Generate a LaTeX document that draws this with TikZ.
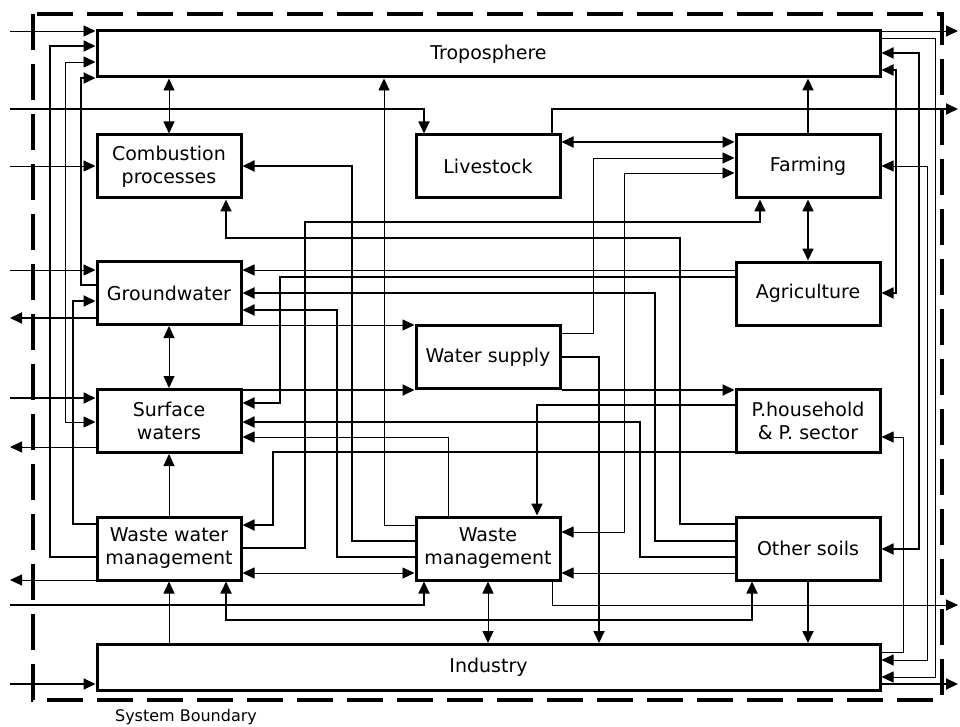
\documentclass[tikz,border=0pt]{standalone}
\usepackage{fontspec}
\setmainfont{DejaVu Sans}
\usetikzlibrary{arrows.meta}

\begin{document}
\begin{tikzpicture}[
    x=1pt, y=-1pt,
    >={Triangle[length=12pt,width=11pt]},
    box/.style={rectangle, draw, line width=3pt, minimum width=144pt, minimum height=63pt, align=center, inner sep=2pt, font=\fontsize{19}{23}\selectfont},
    widebox/.style={box, minimum width=783pt, minimum height=46pt},
    thinline/.style={line width=0.9pt},
    thickline/.style={line width=1.8pt},
    boundary/.style={line width=3.8pt, dash pattern=on 36pt off 14pt}
]
\useasboundingbox (0,0) rectangle (960,727);

% System boundary
\draw[boundary] (33,14) rectangle (942,700);
\node[font=\fontsize{16}{19}\selectfont] (sblabel) at (186,717) {System Boundary};

% Boxes
\node[widebox] (tropo) at (488.5,54) {Troposphere};
\node[box] (comb) at (169,166.5) {Combustion\\processes};
\node[box] (live) at (488,166.5) {Livestock};
\node[box] (farm) at (808,166.5) {Farming};
\node[box] (gw) at (169,293) {Groundwater};
\node[box] (agri) at (808,293.5) {Agriculture};
\node[box] (ws) at (488,357) {Water supply};
\node[box] (sw) at (169,421) {Surface\\waters};
\node[box] (ph) at (808,421) {P.household\\\& P. sector};
\node[box] (wwm) at (169,548.5) {Waste water\\management};
\node[box] (wm) at (488,548.5) {Waste\\management};
\node[box] (os) at (808,548.5) {Other soils};
\node[widebox] (ind) at (488.5,667.5) {Industry};

% Free ends outside the boundary
\foreach \nm/\yy in {intropo/31,inlive/109,incomb/166,ingw/270,outgw/318,insw/398,outsw/447,outwwm/580,inwm/605,inind/684}
    \coordinate (\nm) at (10,\yy);
\foreach \nm/\yy in {outtropo/31,outlive/109,outwm/605,outind/684}
    \coordinate (\nm) at (958,\yy);

% Left side flows
\draw[thinline,->] (intropo) -- (tropo.west |- intropo);
\draw[thickline,->] (inlive) -| (live.north -| 424,0);
\draw[thinline,->] (incomb) -- (comb.west |- incomb);
\draw[thinline,->] (ingw) -- (gw.west |- ingw);
\draw[thickline,->] (gw.west |- outgw) -- (outgw);
\draw[thickline,->] (insw) -- (sw.west |- insw);
\draw[thinline,->] (sw.west |- outsw) -- (outsw);
\draw[thinline,->] (wwm.west |- outwwm) -- (outwwm);
\draw[thickline,->] (inwm) -| (wm.south -| 424,0);
\draw[thickline,->] (inind) -- (ind.west |- inind);

% Right side flows
\draw[thinline,->] (tropo.east |- outtropo) -- (outtropo);
\draw[thickline,->] (live.north -| 552,0) |- (outlive);
\draw[thinline,->] (wm.south -| 552,0) |- (outwm);
\draw[thickline,->] (ind.east |- outind) -- (outind);

% Straight links
\draw[thinline,<->] (tropo.south -| comb.north) -- (comb.north);
\draw[thickline,->] (farm.north) -- (tropo.south -| farm.north);
\draw[thickline,<->] (farm.south) -- (agri.north);
\draw[thinline,<->] (gw.south) -- (sw.north);
\draw[thinline,->] (wwm.north) -- (sw.south);
\draw[thinline,->] (ind.north -| wwm.south) -- (wwm.south);
\draw[thinline,<->] (wm.south) -- (ind.north -| wm.south);
\draw[thickline,->] (os.south) -- (ind.north -| os.south);
\draw[thickline,<->] (live.east |- 0,142) -- (farm.west |- 0,142);
\draw[thinline,->] (agri.west |- 0,270) -- (gw.east |- 0,270);
\draw[thinline,->] (gw.east |- 0,325) -- (ws.west |- 0,325);
\draw[thickline,->] (sw.east |- 0,390) -- (ws.west |- 0,390);
\draw[thickline,->] (ws.east |- 0,390) -- (ph.west |- 0,390);
\draw[thinline,<->] (wwm.east |- 0,573) -- (wm.west |- 0,573);
\draw[thinline,->] (os.west |- 0,573) -- (wm.east |- 0,573);

% Routed links, left channel
\draw[thickline,->] (wwm.west |- 0,557) -| (50,46) -- (tropo.west |- 0,46);
\draw[thinline,<->] (tropo.west |- 0,62) -| (65,422) -- (sw.west |- 0,422);
\draw[thickline,->] (gw.west |- 0,285) -| (81,78) -- (tropo.west |- 0,78);
\draw[thickline,->] (wwm.west |- 0,524) -| (73,301) -- (gw.west |- 0,301);

% Routed links, right channel
\draw[thinline,->] (tropo.east |- 0,38) -| (935,677) -- (ind.east |- 0,677);
\draw[thickline,<->] (tropo.east |- 0,53) -| (919,549) -- (os.east |- 0,549);
\draw[thinline,<->] (farm.east |- 0,166) -| (927,660) -- (ind.east |- 0,660);
\draw[thickline,<->] (tropo.east |- 0,70) -| (896,293) -- (agri.east |- 0,293);
\draw[thinline,->] (ind.east |- 0,652) -| (903,437) -- (ph.east |- 0,437);

% Routed links, middle
\draw[thinline,->] (ws.east |- 0,333) -| (593,158) -- (farm.west |- 0,158);
\draw[thinline,<->] (farm.west |- 0,173) -| (624,532) -- (wm.east |- 0,532);
\draw[thickline,->] (wwm.east |- 0,548) -| (305,222) -| (farm.south -| 760,0);
\draw[thickline,->] (os.west |- 0,524) -| (680,238) -| (comb.south -| 226,0);
\draw[thickline,->] (wm.west |- 0,541) -| (352,166) -- (comb.east |- 0,166);
\draw[thinline,->] (wm.west |- 0,525) -| (tropo.south -| 384,0);
\draw[thickline,->] (agri.west |- 0,277) -| (280,403) -- (sw.east |- 0,403);
\draw[thickline,->] (os.west |- 0,541) -| (655,293) -- (gw.east |- 0,293);
\draw[thickline,->] (wm.west |- 0,557) -| (337,310) -- (gw.east |- 0,310);
\draw[thickline,->] (ws.east |- 0,357) -| (ind.north -| 599,0);
\draw[thickline,->] (ph.west |- 0,405) -| (wm.north -| 537,0);
\draw[thickline,->] (ph.west |- 0,452) -| (273,525) -- (wwm.east |- 0,525);
\draw[thickline,->] (os.west |- 0,557) -| (640,422) -- (sw.east |- 0,422);
\draw[thinline,->] (wm.north -| 448,0) |- (sw.east |- 0,437);
\draw[thickline,<->] (wwm.south -| 226,0) |- (752,620) -- (os.south -| 752,0);

\end{tikzpicture}
\end{document}
